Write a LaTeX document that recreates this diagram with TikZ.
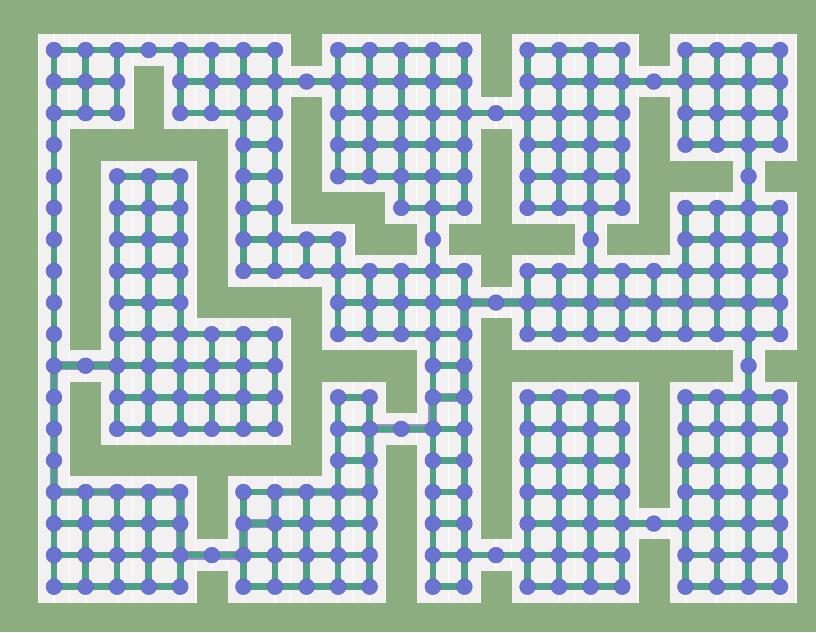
\documentclass[tikz,border=0pt]{standalone}
\usepackage{xcolor}
\usetikzlibrary{calc}

\definecolor{wallGreen}{RGB}{139,173,128}
\definecolor{floorGrey}{RGB}{242,240,240}
\definecolor{linkTeal}{RGB}{78,160,136}
\definecolor{vertexBlue}{RGB}{106,116,208}
\definecolor{vertexRim}{RGB}{92,100,190}
\definecolor{routePurple}{RGB}{140,130,205}

\pgfdeclarelayer{floorlayer}
\pgfdeclarelayer{linklayer}
\pgfsetlayers{floorlayer,linklayer,main}

% free cells of the map: row / first column / last column
\def\freeruns{0/0/7, 0/9/13, 0/15/18, 0/20/23,
  1/0/2, 1/4/13, 1/15/23,
  2/0/2, 2/4/7, 2/9/18, 2/20/23,
  3/0/0, 3/6/7, 3/9/13, 3/15/18, 3/20/23,
  4/0/0, 4/2/4, 4/6/7, 4/9/13, 4/15/18, 4/22/22,
  5/0/0, 5/2/4, 5/6/7, 5/11/13, 5/15/18, 5/20/23,
  6/0/0, 6/2/4, 6/6/9, 6/12/12, 6/17/17, 6/20/23,
  7/0/0, 7/2/4, 7/6/13, 7/15/23,
  8/0/0, 8/2/4, 8/9/23,
  9/0/0, 9/2/7, 9/9/13, 9/15/23,
  10/0/7, 10/12/13, 10/22/22,
  11/0/0, 11/2/7, 11/9/10, 11/12/13, 11/15/18, 11/20/23,
  12/0/0, 12/2/7, 12/9/13, 12/15/18, 12/20/23,
  13/0/0, 13/9/10, 13/12/13, 13/15/18, 13/20/23,
  14/0/4, 14/6/10, 14/12/13, 14/15/18, 14/20/23,
  15/0/4, 15/6/10, 15/12/13, 15/15/23,
  16/0/10, 16/12/18, 16/20/23,
  17/0/4, 17/6/10, 17/12/13, 17/15/18, 17/20/23}

\begin{document}
\begin{tikzpicture}[x=1cm, y=-1cm,
    vertex/.style={circle, fill=vertexBlue, draw=vertexRim, line width=0.4pt, minimum size=0.5cm, inner sep=0pt},
    link/.style={draw=linkTeal, line width=0.205cm},
    route/.style={draw=routePurple, line width=0.28cm, line join=round, opacity=0.85},
    tile/.style={fill=floorGrey},
    seam/.style={draw=white, line width=1.1pt}]
  \useasboundingbox (-1.71,-1.584) rectangle (24.137,18.435);

  % vertices
  \foreach \rr/\ca/\cb in \freeruns {
    \foreach \cc in {\ca,...,\cb} {
      \expandafter\gdef\csname fc-\cc-\rr\endcsname{}
      \node[vertex] (n-\cc-\rr) at (\cc,\rr) {};
    }
  }

  % walls, tiles and highlighted route
  \begin{pgfonlayer}{floorlayer}
    \fill[wallGreen] (-1.71,-1.584) rectangle (24.137,18.435);
    \foreach \rr/\ca/\cb in \freeruns {
      \foreach \cc in {\ca,...,\cb} {
        \fill[tile] (\cc-0.5,\rr-0.5) rectangle ++(1,1);
        \draw[seam] (\cc-0.5,\rr-0.5) grid[step=0.5] ++(1,1);
      }
    }
    \draw[route] (n-2-10.center) -- (n-0-10.center) -- (n-0-14.center) -- (n-4-14.center) -- (n-4-16.center) -- (n-6-16.center) -- (n-6-15.center) -- (n-7-15.center) -- (n-7-14.center) -- (n-10-14.center) -- (n-10-12.center) -- (n-12-12.center) -- (n-12-11.center) -- (n-13-11.center) -- (n-13-8.center) -- (n-23-8.center);
  \end{pgfonlayer}

  % links to the right and downwards
  \begin{pgfonlayer}{linklayer}
    \foreach \rr/\ca/\cb in \freeruns {
      \foreach \cc in {\ca,...,\cb} {
        \pgfmathtruncatemacro\cn{\cc+1}
        \pgfmathtruncatemacro\rn{\rr+1}
        \ifcsname fc-\cn-\rr\endcsname \draw[link] (n-\cc-\rr.center) -- (n-\cn-\rr.center); \fi
        \ifcsname fc-\cc-\rn\endcsname \draw[link] (n-\cc-\rr.center) -- (n-\cc-\rn.center); \fi
      }
    }
  \end{pgfonlayer}
\end{tikzpicture}
\end{document}
